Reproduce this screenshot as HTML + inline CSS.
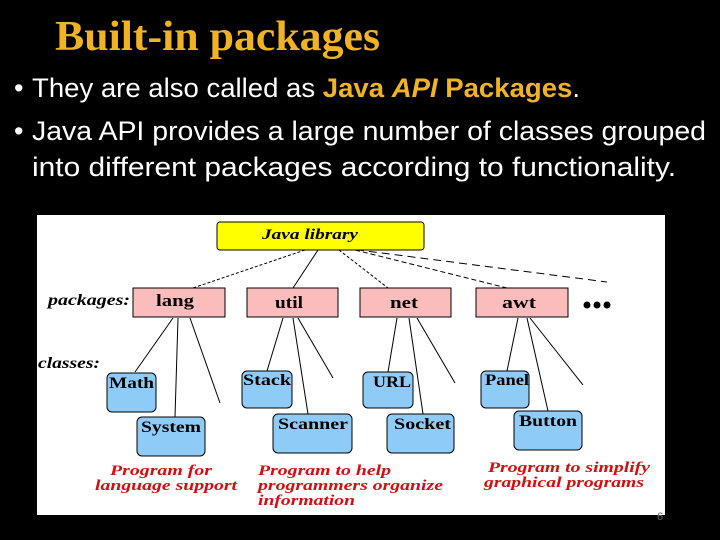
<!DOCTYPE html>
<html><head><meta charset="utf-8"><style>
html,body{margin:0;padding:0;background:#000;}
svg{display:block}
</style></head><body>
<svg width="720" height="540" viewBox="0 0 720 540" xmlns="http://www.w3.org/2000/svg">
<rect width="720" height="540" fill="#000"/>
<text x="55" y="50" font-family="Liberation Serif, serif" font-weight="bold" font-size="42" fill="#f0b323" textLength="325" lengthAdjust="spacingAndGlyphs">Built-in packages</text>
<g font-family="Liberation Sans, sans-serif" font-size="27" fill="#fff">
<text x="14" y="97">•</text>
<text x="32" y="97" textLength="548" lengthAdjust="spacingAndGlyphs">They are also called as <tspan fill="#f0b323" font-weight="bold">Java <tspan font-style="italic">API</tspan> Packages</tspan>.</text>
<text x="14" y="140">•</text>
<text x="32" y="140" textLength="674" lengthAdjust="spacingAndGlyphs">Java API provides a large number of classes grouped</text>
<text x="32" y="176" textLength="644" lengthAdjust="spacingAndGlyphs">into different packages according to functionality.</text>
</g>
<rect x="37" y="215" width="628" height="300" fill="#fff"/>
<g stroke="#000" stroke-width="1" fill="none">
<line x1="305" y1="250" x2="187" y2="290" stroke-dasharray="3,2"/>
<line x1="318" y1="250" x2="293" y2="288"/>
<line x1="339" y1="250" x2="388" y2="288" stroke-dasharray="3,2"/>
<line x1="355" y1="250" x2="507" y2="288" stroke-dasharray="5,3"/>
<line x1="343" y1="248" x2="607" y2="282" stroke-dasharray="8,5"/>
<line x1="173" y1="318" x2="135" y2="372"/>
<line x1="178" y1="318" x2="175" y2="417"/>
<line x1="190" y1="318" x2="220" y2="403"/>
<line x1="283" y1="318" x2="267" y2="371"/>
<line x1="293" y1="318" x2="308" y2="414"/>
<line x1="298" y1="318" x2="333" y2="378"/>
<line x1="397" y1="318" x2="388" y2="372"/>
<line x1="409" y1="318" x2="423" y2="414"/>
<line x1="417" y1="318" x2="455" y2="383"/>
<line x1="518" y1="318" x2="507" y2="371"/>
<line x1="527" y1="318" x2="548" y2="411"/>
<line x1="530" y1="318" x2="583" y2="385"/>
</g>
<rect x="217" y="222" width="207" height="28" rx="3" fill="#ffff00" stroke="#000"/>
<g fill="#fbbcbc" stroke="#000">
<rect x="133" y="288" width="92" height="29"/>
<rect x="247" y="288" width="91" height="29"/>
<rect x="360" y="288" width="91" height="29"/>
<rect x="476" y="288" width="92" height="29"/>
</g>
<g fill="#8ecbf7" stroke="#000">
<rect x="107" y="373" width="49" height="39" rx="5"/>
<rect x="137" y="417" width="68" height="39" rx="5"/>
<rect x="242" y="371" width="50" height="37" rx="5"/>
<rect x="273" y="414" width="79" height="39" rx="5"/>
<rect x="363" y="372" width="50" height="36" rx="5"/>
<rect x="387" y="414" width="67" height="39" rx="5"/>
<rect x="481" y="371" width="48" height="37" rx="5"/>
<rect x="514" y="411" width="68" height="39" rx="5"/>
</g>
<g fill="#000"><circle cx="587" cy="305" r="3.5"/><circle cx="597" cy="305" r="3.5"/><circle cx="607" cy="305" r="3.5"/></g>
<g font-family="Liberation Serif, serif" font-weight="bold" fill="#000" lengthAdjust="spacingAndGlyphs">
<text x="262" y="239" font-size="15" font-style="italic" textLength="96" lengthAdjust="spacingAndGlyphs">Java library</text>
<text x="48" y="305" font-size="16" font-style="italic" textLength="82" lengthAdjust="spacingAndGlyphs">packages:</text>
<text x="38" y="368" font-size="16" font-style="italic" textLength="62" lengthAdjust="spacingAndGlyphs">classes:</text>
<text x="156" y="306" font-size="17" textLength="38" lengthAdjust="spacingAndGlyphs">lang</text>
<text x="275" y="308" font-size="17" textLength="28" lengthAdjust="spacingAndGlyphs">util</text>
<text x="390" y="308" font-size="17" textLength="28" lengthAdjust="spacingAndGlyphs">net</text>
<text x="502" y="308" font-size="17" textLength="34" lengthAdjust="spacingAndGlyphs">awt</text>
<text x="109" y="388" font-size="16" textLength="45" lengthAdjust="spacingAndGlyphs">Math</text>
<text x="141" y="432" font-size="16" textLength="60" lengthAdjust="spacingAndGlyphs">System</text>
<text x="243" y="385" font-size="16" textLength="48" lengthAdjust="spacingAndGlyphs">Stack</text>
<text x="278" y="429" font-size="16" textLength="70" lengthAdjust="spacingAndGlyphs">Scanner</text>
<text x="373" y="387" font-size="16" textLength="38" lengthAdjust="spacingAndGlyphs">URL</text>
<text x="394" y="429" font-size="16" textLength="57" lengthAdjust="spacingAndGlyphs">Socket</text>
<text x="485" y="385" font-size="16" textLength="44" lengthAdjust="spacingAndGlyphs">Panel</text>
<text x="519" y="426" font-size="16" textLength="58" lengthAdjust="spacingAndGlyphs">Button</text>
</g>
<g font-family="Liberation Serif, serif" font-weight="bold" font-style="italic" font-size="15" fill="#d01010">
<text x="110" y="475" textLength="102" lengthAdjust="spacingAndGlyphs">Program for</text>
<text x="95" y="490" textLength="142" lengthAdjust="spacingAndGlyphs">language support</text>
<text x="258" y="475" textLength="133" lengthAdjust="spacingAndGlyphs">Program to help</text>
<text x="258" y="490" textLength="185" lengthAdjust="spacingAndGlyphs">programmers organize</text>
<text x="258" y="505" textLength="97" lengthAdjust="spacingAndGlyphs">information</text>
<text x="488" y="472" textLength="162" lengthAdjust="spacingAndGlyphs">Program to simplify</text>
<text x="484" y="487" textLength="160" lengthAdjust="spacingAndGlyphs">graphical programs</text>
</g>
<text x="657" y="520" font-family="Liberation Sans, sans-serif" font-size="11" fill="#666">6</text>
</svg>
</body></html>
